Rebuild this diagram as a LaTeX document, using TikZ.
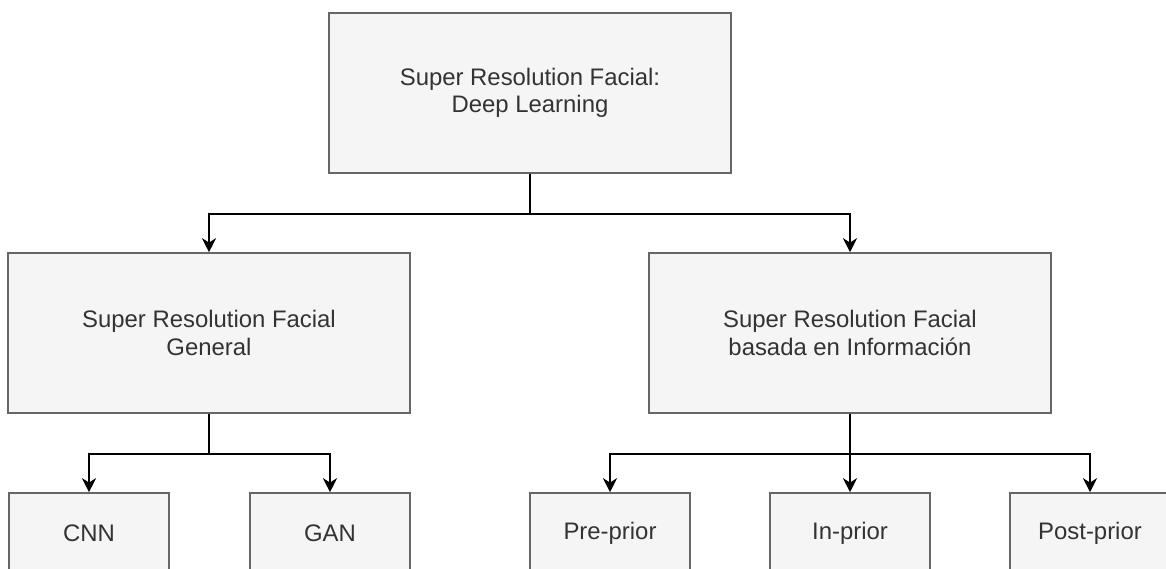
\documentclass[tikz,border=0pt]{standalone}
\usepackage{fontspec}
\setmainfont{Liberation Sans}
\usepackage{tikz}
\usetikzlibrary{arrows.meta}

\definecolor{boxfill}{HTML}{F5F5F5}
\definecolor{boxline}{HTML}{666666}
\definecolor{boxtext}{HTML}{333333}

\tikzset{
  bigbox/.style={draw=boxline,fill=boxfill,line width=0.9pt,text=boxtext,
    minimum width=8.04cm,minimum height=3.2cm,inner sep=0pt,align=center,
    font=\fontsize{13.6}{15.7}\selectfont},
  smallbox/.style={bigbox,minimum width=3.2cm,minimum height=1.6cm},
  arr/.style={line width=1.1pt,-{Stealth[length=8pt,width=8pt,inset=2.5pt]}}
}

\begin{document}
\begin{tikzpicture}[x=0.02cm,y=-0.02cm]
\useasboundingbox (0,0) rectangle (1166,568);
\clip (0,0) rectangle (1166,568);
\node[bigbox] (srf) at (530,93) {Super Resolution Facial:\\Deep Learning};
\node[bigbox] (gen) at (209,333) {Super Resolution Facial\\General};
\node[bigbox] (inf) at (850,333) {Super Resolution Facial\\basada en Informaci\'on};
\node[smallbox] (cnn) at (89,533) {CNN};
\node[smallbox] (gan) at (330,533) {GAN};
\node[smallbox] (pre) at (610,533) {Pre-prior};
\node[smallbox] (inp) at (850,533) {In-prior};
\node[smallbox] (post) at (1090,533) {Post-prior};
\draw[arr] (srf.south) -- ++(0,40) -| (gen.north);
\draw[arr] (srf.south) -- ++(0,40) -| (inf.north);
\draw[arr] (gen.south) -- ++(0,40) -| (cnn.north);
\draw[arr] (gen.south) -- ++(0,40) -| (gan.north);
\draw[arr] (inf.south) -- ++(0,40) -| (pre.north);
\draw[arr] (inf.south) -- (inp.north);
\draw[arr] (inf.south) -- ++(0,40) -| (post.north);
\end{tikzpicture}
\end{document}
